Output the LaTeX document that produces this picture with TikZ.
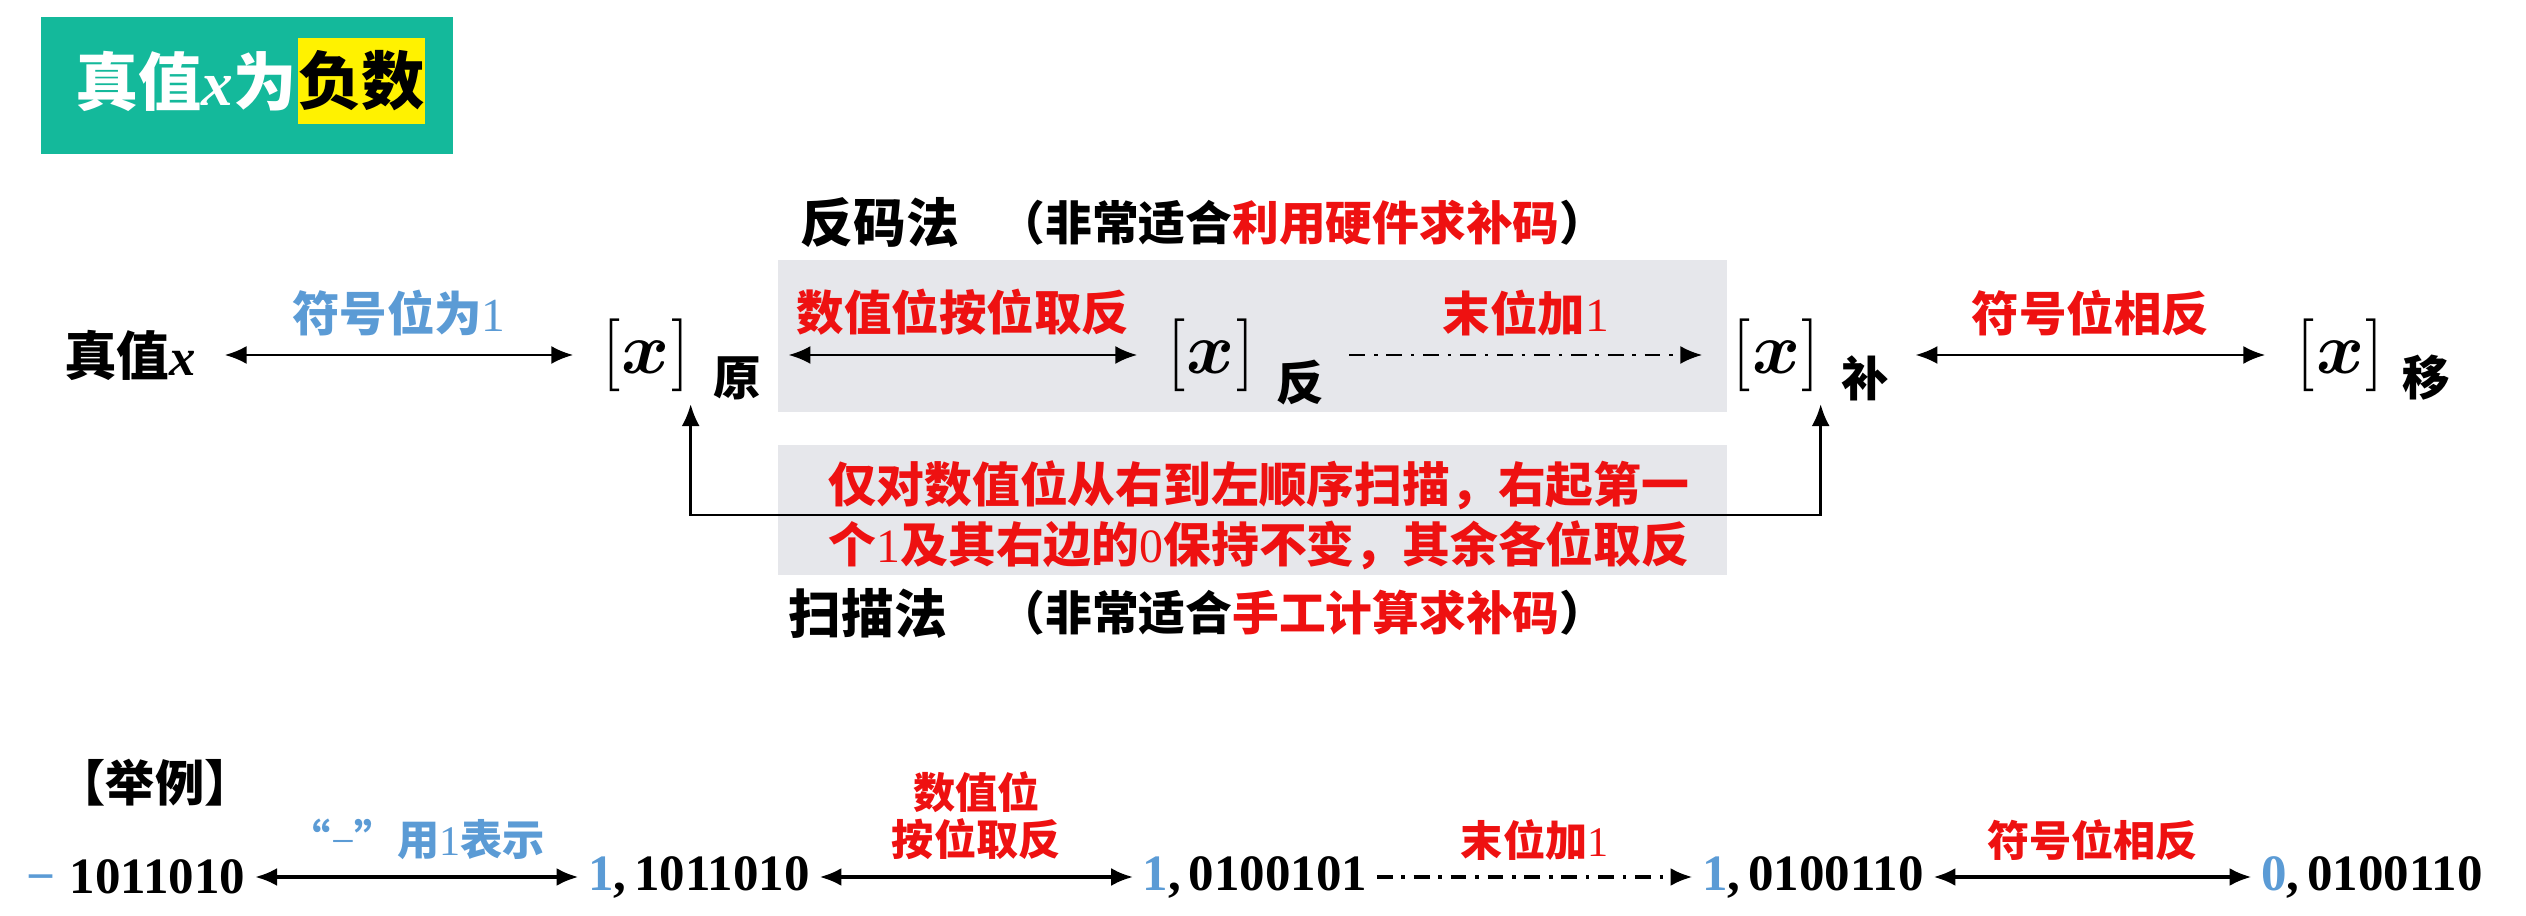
\documentclass[tikz,border=0pt]{standalone}
\usepackage{fontspec}
\setmainfont{Liberation Serif}
\newfontfamily\cjk[BoldFont={Noto Sans CJK SC Black}]{Noto Sans CJK SC}
\usetikzlibrary{arrows.meta,positioning}

\definecolor{tealbg}{HTML}{14B99B}
\definecolor{sblue}{HTML}{5B9BD5}
\definecolor{sred}{HTML}{EE1111}
\definecolor{boxgray}{HTML}{E6E7EB}

\newcommand\fs[1]{\fontsize{#1}{#1}\selectfont}
\newcommand\dg[1]{\textnormal{#1}}
\newcommand\bx{$[$\kern0.5pt{\fs{21}\boldmath$x$}\kern0.5pt$]$}

\begin{document}
\begin{tikzpicture}[>={Latex[length=2.2mm,width=1.8mm]},
    link/.style={<->, line width=0.8pt},
    addone/.style={->, line width=0.8pt, dash pattern=on 4.5pt off 2.5pt on 1pt off 2.5pt},
    linkb/.style={<->, line width=1.1pt},
    addoneb/.style={->, line width=1.1pt, dash pattern=on 4.5pt off 2.5pt on 1pt off 2.5pt},
    code/.style={inner sep=0pt, font=\fs{20}},
    idx/.style={inner sep=0pt, font=\cjk\bfseries\fs{13.5}},
    head/.style={inner sep=0pt, font=\cjk\bfseries\fs{15}},
    note/.style={inner sep=0pt, anchor=west, font=\cjk\bfseries\fs{13.3}},
    redlbl/.style={inner sep=0pt, text=sred, font=\cjk\bfseries\fs{13.5}},
    bluelbl/.style={inner sep=0pt, text=sblue, font=\cjk\bfseries\fs{13.5}},
    num/.style={inner xsep=0.9mm, inner ysep=0pt, font=\bfseries\fs{14.5}},
    smalllbl/.style={inner sep=0pt, align=center, font=\cjk\bfseries\fontsize{12}{13.5}\selectfont}]

\useasboundingbox (0,0) rectangle (25.26,9.15);

% --------------------------------------------------
% Title
% --------------------------------------------------
\node[fill=tealbg, minimum width=4.12cm, minimum height=1.37cm, inner sep=0pt] (title) at (2.47,8.295) {};
\node[fill=yellow, minimum width=1.27cm, minimum height=0.86cm, inner sep=0pt] (hl) at (3.615,8.34) {};
\node[anchor=east, inner sep=0pt, text=white, font=\cjk\bfseries\fs{18}] (ttl) at (hl.west) {真值\textit{\rmfamily x}为};
\node[inner sep=0pt, font=\cjk\bfseries\fs{18}] (neg) at (hl) {负数};

% --------------------------------------------------
% Gray panels
% --------------------------------------------------
\fill[boxgray] (7.78,6.55) rectangle (17.27,5.03);
\fill[boxgray] (7.78,4.70) rectangle (17.27,3.40);

\node[head] (fanma) at (8.80,6.92) {反码法};
\node[note] (fanmaNote) at (9.98,6.92) {（非常适合{\color{sred}利用硬件求补码}）};
\node[head] (saomiao) at (8.68,3.02) {扫描法};
\node[note] (saomiaoNote) at (9.98,3.02) {（非常适合{\color{sred}手工计算求补码}）};

% --------------------------------------------------
% Main row
% --------------------------------------------------
\node[inner sep=0pt, font=\cjk\bfseries\fs{15}] (zx) at (1.30,5.60) {真值\textit{\rmfamily x}};
\node[code] (yuan) at (6.46,5.60) {\bx};
\node[idx] (yuanS) at (7.37,5.37) {原};
\node[code] (fan) at (12.11,5.60) {\bx};
\node[idx] (fanS) at (13.00,5.32) {反};
\node[code] (bu) at (17.76,5.60) {\bx};
\node[idx] (buS) at (18.65,5.37) {补};
\node[code] (yi) at (23.40,5.60) {\bx};
\node[idx] (yiS) at (24.26,5.37) {移};

\draw[link] ([xshift=2.8mm]zx.east) -- ([xshift=-2.8mm]yuan.west)
    node[midway, above=1.8mm, bluelbl] (l1) {符号位为\dg{1}};
\draw[link] ([xshift=2.7mm]yuanS.east |- yuan) -- ([xshift=-2.9mm]fan.west)
    node[midway, above=1.8mm, redlbl] (l2) {数值位按位取反};
\draw[addone] ([xshift=2.5mm]fanS.east |- fan) -- ([xshift=-2.9mm]bu.west)
    node[midway, above=1.8mm, redlbl] (l3) {末位加\dg{1}};
\draw[link] ([xshift=2.6mm]buS.east |- bu) -- ([xshift=-3mm]yi.west)
    node[midway, above=1.8mm, redlbl] (l4) {符号位相反};

% scan method
\coordinate (scanmid) at (12.59,4.00);
\draw[link] ([yshift=-1.2mm]yuan.south east) |- (scanmid) -| ([yshift=-1.2mm]bu.south east);
\node[redlbl, align=center, font=\cjk\bfseries\fontsize{13.6}{17}\selectfont] (scan) at (scanmid)
    {仅对数值位从右到左顺序扫描，右起第一\\个\dg{1}及其右边的\dg{0}保持不变，其余各位取反};

% --------------------------------------------------
% Example row
% --------------------------------------------------
\node[inner sep=0pt, font=\cjk\bfseries\fs{14}] (eg) at (1.55,1.32) {【举例】};

\node[num] (n0) at (1.36,0.38) {{\color{sblue}−}\hspace{4pt}1011010};
\node[num] (n1) at (6.99,0.38) {{\color{sblue}1},\hspace{0.15em}1011010};
\node[num] (n2) at (12.55,0.38) {{\color{sblue}1},\hspace{0.15em}0100101};
\node[num] (n3) at (18.13,0.38) {{\color{sblue}1},\hspace{0.15em}0100110};
\node[num] (n4) at (23.72,0.38) {{\color{sblue}0},\hspace{0.15em}0100110};

\draw[linkb] (n0) -- (n1)
    node[midway, above=1.5mm, smalllbl, text=sblue] (e1) {“\dg{−}”用\dg{1}表示};
\draw[linkb] (n1) -- (n2)
    node[midway, above=1.5mm, smalllbl, text=sred] (e2) {数值位\\按位取反};
\draw[addoneb] (n2) -- (n3)
    node[midway, above=1.5mm, smalllbl, text=sred] (e3) {末位加\dg{1}};
\draw[linkb] (n3) -- (n4)
    node[midway, above=1.5mm, smalllbl, text=sred] (e4) {符号位相反};

\end{tikzpicture}
\end{document}
